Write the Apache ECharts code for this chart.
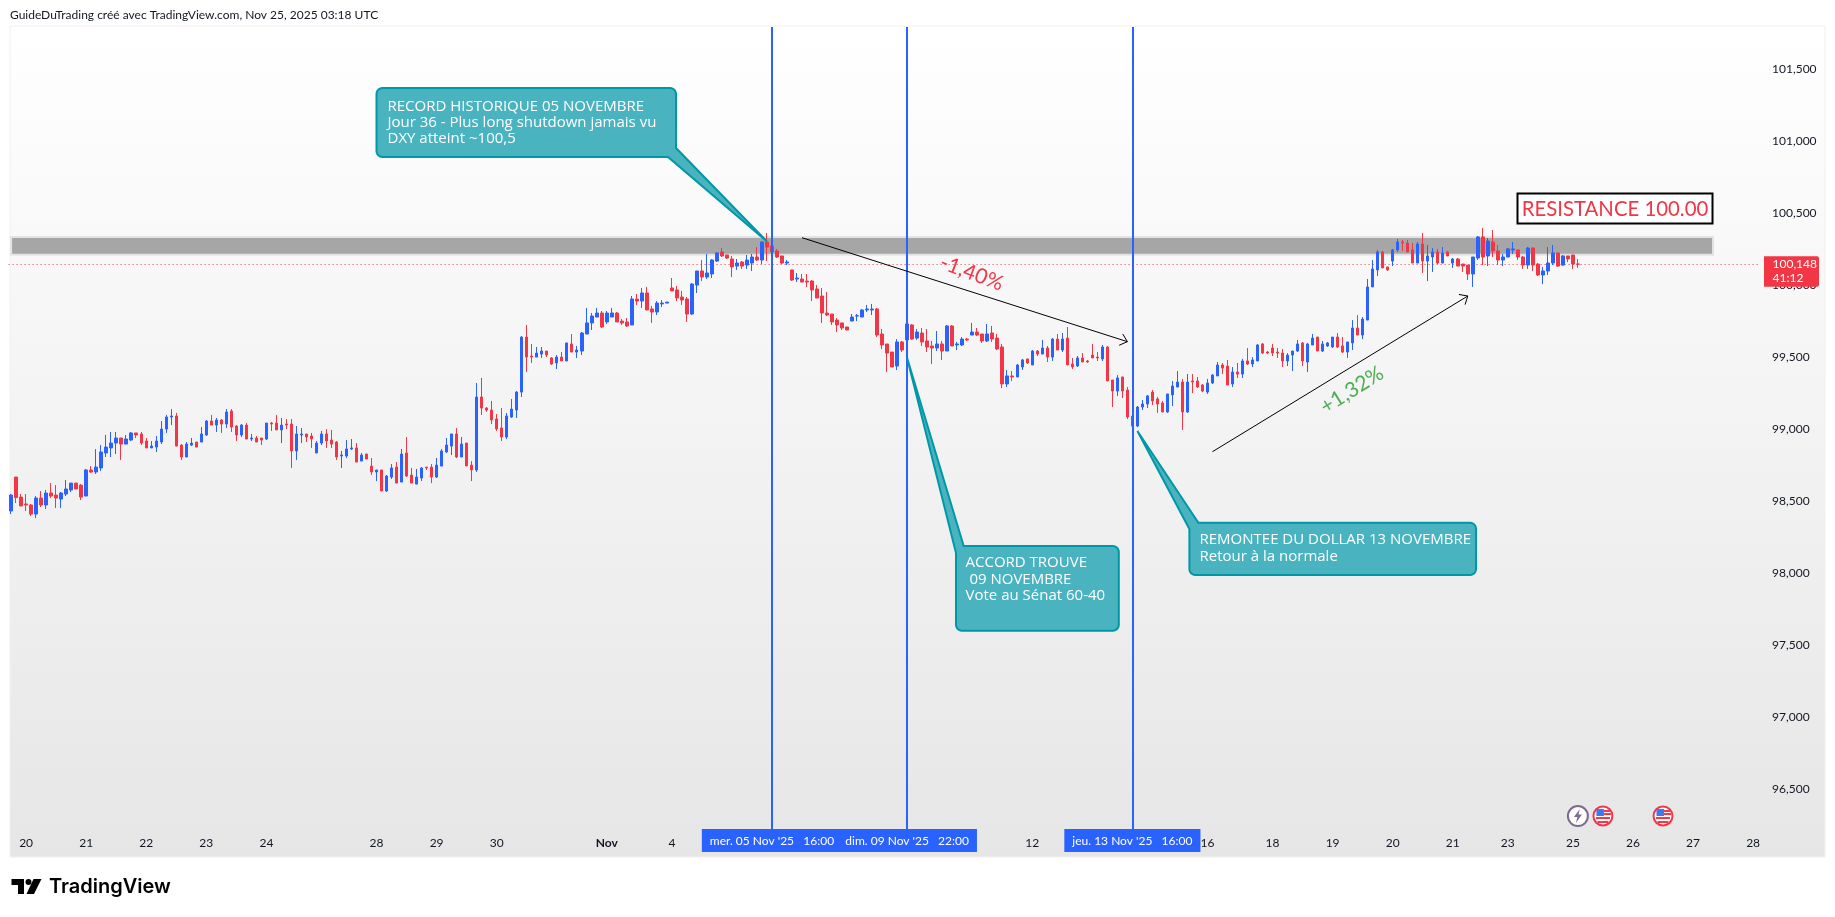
<!DOCTYPE html>
<html><head><meta charset="utf-8"><title>DXY</title>
<style>html,body{margin:0;padding:0;background:#fff}#c{width:1835px;height:917px}</style>
<script src="https://cdn.jsdelivr.net/npm/echarts@6/dist/echarts.min.js"></script>
</head><body><div id="c"></div>
<script>
const opens=[98.434,98.670,98.531,98.483,98.476,98.413,98.524,98.476,98.559,98.545,
98.517,98.552,98.580,98.628,98.614,98.538,98.719,98.705,98.733,98.837,
98.872,98.906,98.941,98.899,98.927,98.976,98.969,98.920,98.872,98.878,
98.913,99.003,99.087,99.094,98.892,98.809,98.892,98.913,98.913,98.962,
99.059,99.031,99.066,99.038,99.128,99.024,98.962,99.031,98.934,98.941,
98.941,98.934,99.045,99.045,98.997,99.038,99.038,98.851,98.962,98.969,
98.955,98.837,98.906,98.969,98.927,98.913,98.816,98.816,98.865,98.872,
98.781,98.830,98.746,98.705,98.719,98.573,98.670,98.739,98.635,98.837,
98.684,98.621,98.663,98.739,98.739,98.670,98.746,98.844,98.885,98.969,
98.809,98.906,98.753,98.719,99.226,99.149,99.135,99.073,99.011,98.948,
99.087,99.135,99.260,99.642,99.510,99.503,99.524,99.545,99.497,99.462,
99.503,99.476,99.594,99.538,99.545,99.663,99.740,99.781,99.809,99.747,
99.781,99.809,99.753,99.747,99.726,99.906,99.892,99.948,99.837,99.816,
99.872,99.878,99.983,99.969,99.920,99.906,99.802,100.003,100.101,100.059,
100.080,100.170,100.233,100.212,100.184,100.135,100.163,100.142,100.156,100.198,
100.177,100.302,100.274,100.240,100.205,100.156,100.108,100.045,100.045,100.031,
100.031,99.976,99.927,99.809,99.802,99.760,99.740,99.712,99.753,99.788,
99.781,99.830,99.830,99.837,99.663,99.594,99.538,99.441,99.608,99.622,
99.726,99.635,99.670,99.615,99.580,99.566,99.594,99.545,99.719,99.587,
99.587,99.628,99.656,99.677,99.663,99.615,99.670,99.635,99.573,99.316,
99.372,99.365,99.434,99.490,99.448,99.545,99.524,99.566,99.503,99.628,
99.552,99.635,99.455,99.441,99.497,99.476,99.517,99.503,99.490,99.573,
99.344,99.267,99.365,99.274,99.094,99.024,99.156,99.177,99.260,99.212,
99.184,99.122,99.240,99.295,99.330,99.122,99.337,99.337,99.309,99.260,
99.323,99.372,99.448,99.441,99.316,99.399,99.385,99.476,99.455,99.476,
99.594,99.538,99.566,99.538,99.531,99.476,99.517,99.545,99.601,99.469,
99.587,99.642,99.545,99.580,99.573,99.642,99.580,99.538,99.601,99.705,
99.656,99.760,99.990,100.108,100.233,100.129,100.170,100.247,100.302,100.295,
100.247,100.156,100.288,100.170,100.198,100.233,100.156,100.233,100.156,100.184,
100.149,100.142,100.080,100.191,100.337,100.205,100.302,100.240,100.177,100.198,
100.247,100.247,100.198,100.142,100.260,100.149,100.073,100.101,100.156,100.226,
100.142,100.205,100.212,100.149];
const closes=[98.545,98.527,98.469,98.476,98.413,98.524,98.476,98.559,98.538,98.524,
98.559,98.587,98.628,98.587,98.531,98.719,98.705,98.739,98.844,98.878,
98.906,98.941,98.899,98.934,98.976,98.962,98.906,98.872,98.885,98.920,
99.003,99.087,99.094,98.885,98.809,98.899,98.906,98.878,98.969,99.059,
99.031,99.066,99.038,99.122,99.017,98.962,99.031,98.934,98.941,98.913,
98.927,99.045,99.038,98.997,99.031,99.031,98.851,98.969,98.969,98.948,
98.934,98.906,98.969,98.920,98.899,98.809,98.823,98.865,98.872,98.774,
98.823,98.795,98.705,98.719,98.573,98.677,98.733,98.628,98.830,98.677,
98.628,98.670,98.733,98.733,98.670,98.753,98.851,98.892,98.969,98.809,
98.899,98.747,98.719,99.226,99.149,99.135,99.066,99.004,98.948,99.094,
99.142,99.260,99.642,99.503,99.503,99.531,99.545,99.517,99.455,99.503,
99.476,99.601,99.538,99.552,99.670,99.740,99.788,99.809,99.712,99.809,
99.809,99.747,99.740,99.719,99.906,99.892,99.948,99.830,99.816,99.878,
99.878,99.885,99.962,99.913,99.899,99.802,100.010,100.101,100.059,100.087,
100.177,100.226,100.205,100.191,100.129,100.156,100.135,100.177,100.198,100.177,
100.302,100.267,100.233,100.198,100.156,100.163,100.038,100.052,100.024,100.024,
99.969,99.913,99.809,99.795,99.747,99.726,99.705,99.691,99.781,99.790,
99.830,99.837,99.837,99.656,99.587,99.531,99.434,99.608,99.552,99.733,
99.628,99.677,99.608,99.573,99.566,99.594,99.545,99.719,99.580,99.594,
99.628,99.622,99.677,99.656,99.615,99.663,99.628,99.559,99.316,99.372,
99.365,99.448,99.483,99.462,99.545,99.524,99.566,99.503,99.628,99.552,
99.628,99.448,99.434,99.497,99.469,99.469,99.497,99.497,99.573,99.337,
99.267,99.358,99.267,99.087,99.024,99.156,99.177,99.233,99.198,99.177,
99.122,99.247,99.302,99.330,99.122,99.330,99.330,99.295,99.267,99.323,
99.378,99.448,99.427,99.309,99.399,99.385,99.476,99.455,99.483,99.587,
99.531,99.531,99.531,99.531,99.476,99.517,99.545,99.594,99.476,99.594,
99.635,99.545,99.594,99.601,99.642,99.573,99.538,99.608,99.705,99.656,
99.767,99.990,100.115,100.233,100.122,100.108,100.247,100.302,100.295,100.233,
100.156,100.288,100.170,100.205,100.233,100.156,100.226,100.205,100.184,100.135,
100.135,100.080,100.198,100.337,100.198,100.309,100.240,100.177,100.198,100.254,
100.254,100.198,100.142,100.260,100.142,100.073,100.101,100.156,100.226,100.135,
100.205,100.184,100.149,100.148];
const lows=[98.413,98.490,98.469,98.434,98.399,98.385,98.462,98.448,98.524,98.455,
98.455,98.538,98.566,98.587,98.510,98.538,98.698,98.691,98.712,98.809,
98.809,98.830,98.788,98.899,98.920,98.941,98.892,98.872,98.872,98.844,
98.899,98.976,99.031,98.885,98.788,98.809,98.885,98.878,98.913,98.955,
99.031,98.983,98.976,99.010,98.983,98.920,98.948,98.934,98.920,98.913,
98.892,98.927,98.990,98.997,98.906,99.003,98.733,98.788,98.906,98.913,
98.872,98.837,98.892,98.872,98.872,98.788,98.733,98.802,98.858,98.774,
98.781,98.795,98.684,98.642,98.573,98.566,98.656,98.628,98.635,98.670,
98.628,98.621,98.642,98.719,98.628,98.663,98.746,98.837,98.823,98.802,
98.809,98.747,98.642,98.705,99.101,99.122,99.038,98.990,98.920,98.934,
99.080,99.080,99.226,99.399,99.462,99.503,99.497,99.503,99.448,99.420,
99.476,99.476,99.538,99.497,99.517,99.663,99.691,99.781,99.705,99.733,
99.781,99.747,99.726,99.712,99.726,99.865,99.844,99.830,99.740,99.795,
99.851,99.878,99.962,99.892,99.865,99.747,99.795,99.948,100.031,100.045,
100.052,100.163,100.198,100.184,100.059,100.108,100.115,100.115,100.101,100.170,
100.149,100.170,100.156,100.191,100.149,100.142,100.031,100.024,100.024,99.990,
99.892,99.913,99.740,99.788,99.726,99.677,99.691,99.691,99.753,99.753,
99.781,99.816,99.795,99.642,99.559,99.399,99.434,99.413,99.538,99.580,
99.622,99.622,99.580,99.538,99.455,99.545,99.483,99.545,99.580,99.552,
99.580,99.615,99.656,99.649,99.601,99.608,99.608,99.552,99.288,99.295,
99.337,99.365,99.413,99.455,99.448,99.510,99.524,99.469,99.476,99.552,
99.538,99.448,99.420,99.434,99.469,99.462,99.497,99.476,99.476,99.337,
99.156,99.233,99.219,99.073,99.000,99.017,99.135,99.149,99.170,99.115,
99.122,99.115,99.163,99.295,98.997,99.115,99.253,99.288,99.260,99.247,
99.316,99.372,99.385,99.309,99.295,99.358,99.358,99.448,99.434,99.476,
99.524,99.524,99.510,99.497,99.434,99.441,99.406,99.538,99.441,99.399,
99.587,99.545,99.538,99.573,99.566,99.566,99.531,99.497,99.552,99.656,
99.628,99.760,99.990,100.066,100.122,100.101,100.135,100.233,100.240,100.233,
100.156,100.156,100.087,100.031,100.094,100.149,100.156,100.205,100.122,100.135,
100.094,100.038,99.990,100.177,100.142,100.135,100.198,100.142,100.135,100.198,
100.219,100.177,100.115,100.115,100.101,100.066,100.010,100.073,100.142,100.129,
100.135,100.163,100.115,100.122];
const highs=[98.552,98.670,98.552,98.552,98.483,98.538,98.573,98.580,98.628,98.614,
98.566,98.649,98.628,98.628,98.621,98.726,98.746,98.864,98.892,98.962,
98.983,98.983,98.941,98.962,98.983,98.976,98.983,98.941,98.920,98.955,
99.059,99.101,99.142,99.115,98.899,98.913,98.941,98.913,99.017,99.066,
99.101,99.080,99.073,99.142,99.142,99.031,99.038,99.045,98.969,98.955,
98.941,99.045,99.052,99.101,99.080,99.073,99.073,99.024,99.010,98.969,
98.976,98.920,98.990,99.003,98.997,98.920,98.851,98.927,98.934,98.906,
98.837,98.830,98.802,98.719,98.719,98.684,98.760,98.774,98.865,98.948,
98.733,98.726,98.739,98.739,98.760,98.802,98.865,98.941,98.969,99.010,
98.948,98.906,98.781,99.323,99.358,99.156,99.198,99.108,99.149,99.115,
99.212,99.267,99.649,99.726,99.594,99.573,99.573,99.545,99.503,99.517,
99.538,99.601,99.663,99.580,99.677,99.844,99.809,99.844,99.823,99.823,
99.844,99.816,99.767,99.774,99.927,99.941,99.983,99.990,99.858,99.892,
99.899,99.885,100.052,99.997,99.962,99.920,100.017,100.101,100.177,100.219,
100.184,100.233,100.260,100.212,100.205,100.184,100.170,100.212,100.219,100.267,
100.309,100.365,100.344,100.254,100.205,100.177,100.108,100.087,100.080,100.080,
100.038,100.003,99.983,99.955,99.802,99.774,99.740,99.712,99.802,99.802,
99.837,99.865,99.872,99.844,99.698,99.594,99.538,99.628,99.615,99.740,
99.733,99.698,99.705,99.698,99.615,99.684,99.615,99.726,99.726,99.608,
99.642,99.635,99.740,99.705,99.663,99.733,99.719,99.663,99.594,99.413,
99.406,99.455,99.490,99.490,99.552,99.552,99.622,99.580,99.635,99.663,
99.670,99.712,99.497,99.510,99.531,99.483,99.594,99.538,99.587,99.580,
99.344,99.378,99.365,99.295,99.105,99.163,99.205,99.240,99.274,99.226,
99.198,99.247,99.337,99.406,99.351,99.385,99.385,99.365,99.316,99.351,
99.385,99.469,99.462,99.483,99.434,99.462,99.490,99.566,99.503,99.594,
99.601,99.545,99.594,99.566,99.559,99.531,99.545,99.622,99.608,99.601,
99.663,99.642,99.615,99.608,99.642,99.670,99.642,99.608,99.760,99.795,
99.781,100.045,100.177,100.247,100.240,100.129,100.254,100.323,100.316,100.316,
100.295,100.302,100.365,100.281,100.260,100.254,100.267,100.240,100.191,100.191,
100.149,100.142,100.198,100.344,100.399,100.330,100.385,100.281,100.219,100.260,
100.302,100.247,100.205,100.267,100.267,100.156,100.129,100.267,100.281,100.226,
100.212,100.205,100.212,100.184];

const tickSlots=[3,15,27,39,51,73,85,97,119,132,204,239,252,264,276,288,299,312,324,336,348];
const tickTexts=['20','21','22','23','24','28','29','30','Nov','4','12','16','18','19','20','21','23','25','26','27','28'];
const priceTicks=[96.5,97,97.5,98,98.5,99,99.5,100,100.5,101,101.5];
const eventSlots=[152,179,224];
const eventTags=["mer. 05 Nov '25   16:00","dim. 09 Nov '25   22:00","jeu. 13 Nov '25   16:00"];
const lastPrice=100.148;
const bandRange=[100.337,100.214];
const bandSlots=[0,340];
const arrowDown=[[158,100.332],[223,99.610]];
const arrowUp=[[240,98.846],[291,99.927]];
const callTips=[[151,100.306],[179,99.497],[225,98.990]];
const callTexts=['RECORD HISTORIQUE 05 NOVEMBRE\nJour 36 - Plus long shutdown jamais vu\nDXY atteint ~100,5','ACCORD TROUVE\n 09 NOVEMBRE\nVote au Sénat 60-40','REMONTEE DU DOLLAR 13 NOVEMBRE\nRetour à la normale'];

const SLOTS=350;
const categories=Array.from({length:SLOTS},(_,i)=>String(i));
const FONT='Lato, "Open Sans", sans-serif';
const NOTE='"Open Sans", Lato, sans-serif';
const BLUE='#2962ff',RED='#f23645',INK='#131722',TEAL='#4ab3c0',TEALD='#0097a7';
const chart=echarts.init(document.getElementById('c'),null,{renderer:'canvas'});
const fmt=v=>v.toFixed(3).replace('.',',');
chart.setOption({
  animation:false,backgroundColor:'#fff',
  grid:{left:8.6,width:1752,top:27,height:802,containLabel:false},
  xAxis:{type:'category',data:categories,boundaryGap:true,
    axisLine:{show:false},axisTick:{show:false},splitLine:{show:false},
    axisLabel:{interval:i=>tickSlots.includes(i),margin:8,color:INK,fontSize:12,fontFamily:FONT,
      hideOverlap:false,
      formatter:(v,i)=>{const k=tickSlots.indexOf(+v);const t=k<0?'':tickTexts[k];return t==='Nov'?'{b|Nov}':t;},
      rich:{b:{fontWeight:'bold',fontSize:12,fontFamily:FONT,color:INK}}}},
  yAxis:{type:'value',position:'right',min:96.226,max:101.795,scale:true,
    axisLine:{show:false},axisTick:{show:false},splitLine:{show:false},
    axisLabel:{customValues:priceTicks,margin:11.5,color:INK,fontSize:12,fontFamily:FONT,formatter:fmt}},
  series:[
    {name:'levels',type:'line',data:[],z:1,silent:true,
      markArea:{silent:true,z:1,itemStyle:{color:'#a6a6a6',borderColor:'#e3e3e3',borderWidth:2},
        data:[[{xAxis:bandSlots[0],yAxis:bandRange[0]},{xAxis:bandSlots[1],yAxis:bandRange[1]}]]},
      markLine:{silent:true,z:1,symbol:'none',label:{show:false},
        lineStyle:{color:RED,type:[1,3],width:1},data:[{yAxis:lastPrice}]}},
    {name:'DXY',type:'candlestick',z:3,barWidth:3,
      itemStyle:{color:BLUE,color0:RED,borderColor:BLUE,borderColor0:RED,borderWidth:1},
      data:opens.map((o,i)=>[o,closes[i],lows[i],highs[i]])},
    {name:'events',type:'line',data:[],z:5,silent:true,
      markLine:{silent:true,z:5,symbol:'none',lineStyle:{color:BLUE,type:'solid',width:2},
        label:{show:true,position:'start',distance:0,color:'#fff',fontSize:12,fontFamily:FONT,
          backgroundColor:BLUE,padding:[6,8,5,8],formatter:p=>p.name},
        data:eventSlots.map((s,i)=>({name:eventTags[i],xAxis:s}))}}
  ]
});

const P=(i,v)=>chart.convertToPixel({xAxisIndex:0,yAxisIndex:0},[i,v]);
function arc(cx,cy,r,a0,a1){const o=[];for(let k=0;k<=6;k++){const a=a0+(a1-a0)*k/6;o.push([cx+r*Math.cos(a),cy+r*Math.sin(a)]);}return o;}
function calloutPts(b,r,corner,base1,tip,base2){
  const [x0,y0,x1,y1]=b,H=Math.PI/2;
  const tr=arc(x1-r,y0+r,r,-H,0),br=arc(x1-r,y1-r,r,0,H),bl=arc(x0+r,y1-r,r,H,2*H),tl=arc(x0+r,y0+r,r,2*H,3*H);
  return corner==='br'?[...tl,...tr,base1,tip,base2,...bl]:[base2,...tr,...br,...bl,base1,tip];
}
function callout(b,corner,base1,tip,base2,text,tx,ty){
  return [{type:'polygon',z:30,shape:{points:calloutPts(b,6,corner,base1,tip,base2)},style:{fill:TEAL,stroke:TEALD,lineWidth:2}},
    {type:'text',z:31,x:tx,y:ty,style:{text,fill:'#fff',font:'15px '+NOTE,lineHeight:16.2,verticalAlign:'top'}}];
}
function arrow(seg){
  const a=P(...seg[0]),b=P(...seg[1]),t=Math.atan2(b[1]-a[1],b[0]-a[0]),L=9,w=0.72;
  return [{type:'line',z:20,shape:{x1:a[0],y1:a[1],x2:b[0],y2:b[1]},style:{stroke:'#000',lineWidth:1}},
    {type:'polyline',z:20,shape:{points:[[b[0]-L*Math.cos(t-w),b[1]-L*Math.sin(t-w)],b,[b[0]-L*Math.cos(t+w),b[1]-L*Math.sin(t+w)]]},style:{stroke:'#000',lineWidth:1,fill:null}}];
}
function flag(cx,cy){
  return [{type:'circle',z:25,shape:{cx,cy,r:9.5},style:{fill:'#fff',stroke:RED,lineWidth:2}},
    {type:'rect',z:26,shape:{x:cx-7,y:cy+1,width:14,height:2},style:{fill:RED}},
    {type:'rect',z:26,shape:{x:cx-5.5,y:cy+5,width:11,height:2},style:{fill:RED}},
    {type:'rect',z:26,shape:{x:cx+1,y:cy-6,width:6,height:2},style:{fill:RED}},
    {type:'rect',z:26,shape:{x:cx+1,y:cy-3,width:7,height:2},style:{fill:RED}},
    {type:'rect',z:27,shape:{x:cx-6.5,y:cy-7,width:7.5,height:7},style:{fill:'#3c78f0'}}];
}
const lastY=P(0,lastPrice)[1];
const sx=i=>P(i,100)[0];
const up=P(...callTips[0]),mid=P(...callTips[1]),low=P(...callTips[2]);
const iconY=P(0,96.316)[1];
const gfx=[
  {type:'rect',z:-10,shape:{x:10,y:26,width:1815,height:831},style:{stroke:'#f0f0f0',lineWidth:1,
    fill:new echarts.graphic.LinearGradient(0,0,0,1,[{offset:0,color:'#ffffff'},{offset:1,color:'#e6e6e6'}])}},
  {type:'text',z:40,x:10,y:9,style:{text:'GuideDuTrading créé avec TradingView.com, Nov 25, 2025 03:18 UTC',fill:INK,font:'12px '+FONT}},
  ...callout([376.5,88,676,157],'br',[676,148],up,[668,157],callTexts[0],387.5,98.5),
  ...callout([956,546,1118.8,630.7],'tl',[956,553],mid,[963.7,546],callTexts[1],965.5,555),
  ...callout([1189.4,522.7,1476,575],'tl',[1189.4,529],low,[1198.4,522.7],callTexts[2],1199.5,532),
  ...arrow(arrowDown),...arrow(arrowUp),
  {type:'text',z:22,x:971.7,y:273,rotation:-0.36,style:{text:'-1,40%',fill:RED,font:'21px '+FONT,align:'center',verticalAlign:'middle'}},
  {type:'text',z:22,x:1352,y:390,rotation:0.56,style:{text:'+1,32%',fill:'#4caf50',font:'21px '+FONT,align:'center',verticalAlign:'middle'}},
  {type:'rect',z:22,shape:{x:1517.5,y:193.5,width:195,height:30},style:{fill:'#fff',stroke:'#000',lineWidth:2}},
  {type:'text',z:23,x:1615,y:208.5,scaleX:0.925,style:{text:'RESISTANCE 100.00',fill:RED,font:'22px '+FONT,align:'center',verticalAlign:'middle'}},
  {type:'rect',z:50,shape:{x:1764,y:lastY-8,width:55,height:30.5,r:[0,2,2,0]},style:{fill:RED}},
  {type:'text',z:51,x:1772.5,y:lastY,style:{text:'100,148',fill:'#fff',font:'12px '+FONT,verticalAlign:'middle'}},
  {type:'text',z:51,x:1772.5,y:lastY+14,style:{text:'41:12',fill:'#fff',font:'12px '+FONT,verticalAlign:'middle'}},
  {type:'circle',z:25,shape:{cx:sx(313),cy:iconY,r:10},style:{fill:'#fff',stroke:'#7e6a8e',lineWidth:2}},
  {type:'polygon',z:26,shape:{points:[[sx(313)+2,iconY-7],[sx(313)-4,iconY+1],[sx(313)-0.5,iconY+1],[sx(313)-2,iconY+7],[sx(313)+4,iconY-1.5],[sx(313)+0.5,iconY-1.5]]},style:{fill:'#7e6a8e'}},
  ...flag(sx(318),iconY),...flag(sx(330),iconY),
  {type:'polygon',z:40,shape:{points:[[11.5,879],[24,879],[24,894],[18,894],[18,885],[11.5,885]]},style:{fill:'#000'}},
  {type:'circle',z:40,shape:{cx:28.5,cy:882,r:3},style:{fill:'#000'}},
  {type:'polygon',z:40,shape:{points:[[33.5,879],[41.5,879],[34,894],[26.5,894]]},style:{fill:'#000'}},
  {type:'text',z:40,x:49,y:887,style:{text:'TradingView',fill:'#000',font:'600 20px Inter, '+FONT,verticalAlign:'middle'}}
];
chart.setOption({graphic:gfx});
</script></body></html>
